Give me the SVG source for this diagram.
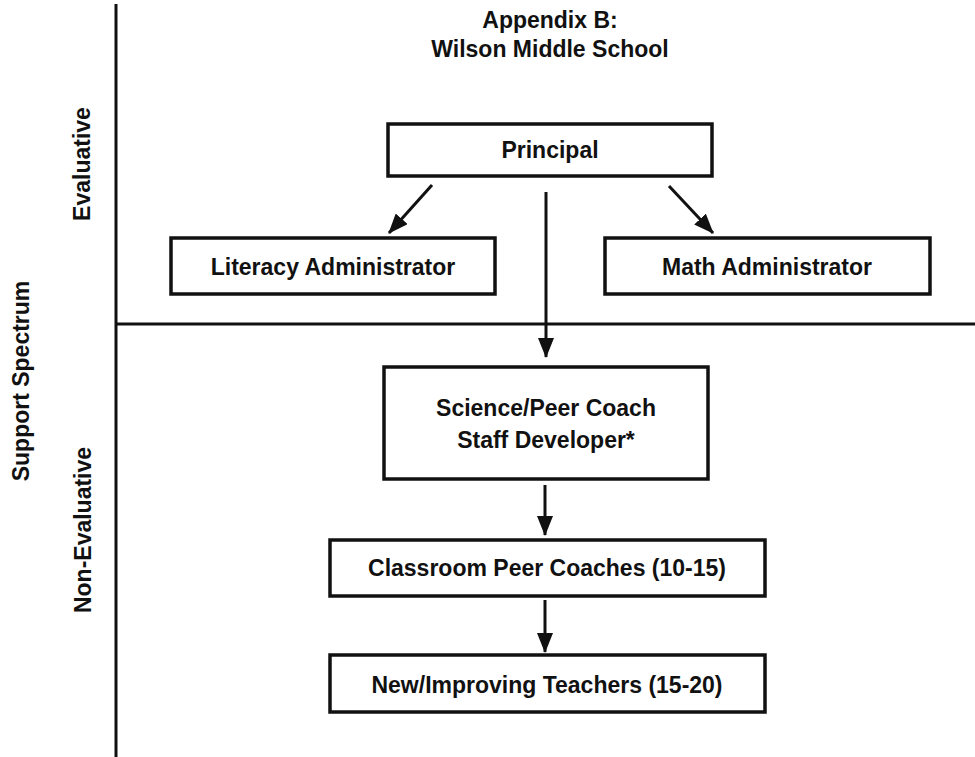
<svg xmlns="http://www.w3.org/2000/svg" width="975" height="757" viewBox="0 0 975 757">
<style>
text{font-family:"Liberation Sans",Arial,sans-serif;font-weight:bold;fill:#111;text-anchor:middle;font-size:23px}
.box{fill:#fff;stroke:#111;stroke-width:3.5}
.axis{stroke:#111;stroke-width:3;fill:none}
.conn{stroke:#111;stroke-width:3;fill:none;marker-end:url(#ah)}
.title{font-size:23px}
</style>
<defs>
<marker id="ah" markerUnits="userSpaceOnUse" markerWidth="20" markerHeight="16" refX="19" refY="8" orient="auto">
<path d="M0,0 L20,8 L0,16 z" fill="#111"/>
</marker>
</defs>
<rect width="975" height="757" fill="#fff"/>
<g id="axes">
<line class="axis" x1="116" y1="4" x2="116" y2="757"/>
<line class="axis" x1="116" y1="324" x2="975" y2="324"/>
</g>
<g id="labels">
<text class="title" x="550" y="28">Appendix B:</text>
<text class="title" x="550" y="57">Wilson Middle School</text>
<text transform="translate(90,164) rotate(-90)">Evaluative</text>
<text transform="translate(29,381) rotate(-90)">Support Spectrum</text>
<text transform="translate(91,530) rotate(-90)">Non-Evaluative</text>
</g>
<g id="connectors">
<line class="conn" x1="432" y1="185" x2="389" y2="233"/>
<line class="conn" x1="669" y1="186" x2="713" y2="233"/>
<line class="conn" x1="546" y1="192" x2="546" y2="357"/>
<line class="conn" x1="545" y1="485" x2="545" y2="535"/>
<line class="conn" x1="545" y1="600" x2="545" y2="652"/>
</g>
<g id="principal">
<rect class="box" x="388" y="124" width="324" height="52"/>
<text x="550" y="158">Principal</text>
</g>
<g id="literacy">
<rect class="box" x="171" y="238" width="324" height="56"/>
<text x="333" y="275">Literacy Administrator</text>
</g>
<g id="math">
<rect class="box" x="605" y="238" width="325" height="56"/>
<text x="767" y="275">Math Administrator</text>
</g>
<g id="science">
<rect class="box" x="384" y="367" width="324" height="112"/>
<text x="546" y="416">Science/Peer Coach</text>
<text x="546" y="448">Staff Developer*</text>
</g>
<g id="classroom">
<rect class="box" x="330" y="540" width="435" height="56"/>
<text x="547" y="576">Classroom Peer Coaches (10-15)</text>
</g>
<g id="teachers">
<rect class="box" x="330" y="655" width="435" height="57"/>
<text x="547" y="693">New/Improving Teachers (15-20)</text>
</g>
</svg>
